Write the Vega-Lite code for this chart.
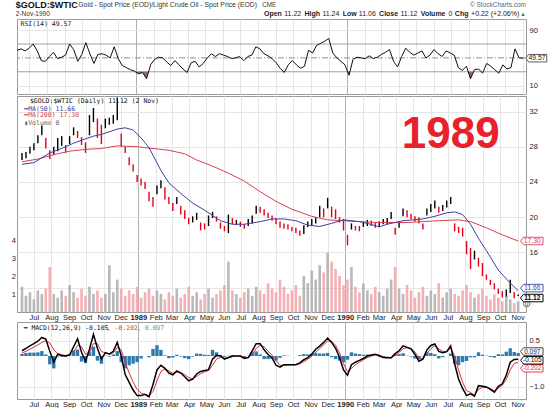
{
"$schema":"https://vega.github.io/schema/vega-lite/v6.json",
"padding":{"left":10,"top":0,"right":2,"bottom":0},
"spacing":0,
"config":{"font":"Liberation Sans","view":{"stroke":"#999999"},"axis":{"labelFont":"Liberation Sans","labelFontSize":7.5,"labelColor":"#222222","ticks":false,"domain":false,"gridColor":"#e6e6e6"}},
"datasets":{
"w":[
{"d":"1988-06-10","lo":26.5,"hi":27.3,"dir":"u","v":1.4,"rsi":61,"m":0.17,"s":0.10,"h":0.07},
{"d":"1988-06-17","lo":26.7,"hi":27.4,"dir":"u","v":0.9,"rsi":63,"m":0.25,"s":0.15,"h":0.10},
{"d":"1988-06-24","lo":27.2,"hi":28.0,"dir":"u","v":1.1,"rsi":60,"m":0.33,"s":0.22,"h":0.11},
{"d":"1988-07-01","lo":27.6,"hi":28.4,"dir":"u","v":0.7,"rsi":64,"m":0.40,"s":0.29,"h":0.11},
{"d":"1988-07-08","lo":28.4,"hi":29.3,"dir":"u","v":1.2,"rsi":70,"m":0.48,"s":0.36,"h":0.12},
{"d":"1988-07-15","lo":29.3,"hi":30.4,"dir":"u","v":1.0,"rsi":60,"m":0.60,"s":0.44,"h":0.16},
{"d":"1988-07-22","lo":27.8,"hi":29.0,"dir":"d","v":1.3,"rsi":46,"m":0.55,"s":0.50,"h":0.05},
{"d":"1988-07-29","lo":26.6,"hi":27.6,"dir":"d","v":2.5,"rsi":45,"m":0.15,"s":0.42,"h":-0.27},
{"d":"1988-08-05","lo":27.1,"hi":28.0,"dir":"u","v":1.0,"rsi":52,"m":-0.20,"s":0.20,"h":-0.40},
{"d":"1988-08-12","lo":27.5,"hi":29.0,"dir":"u","v":0.8,"rsi":58,"m":0.06,"s":0.08,"h":-0.02},
{"d":"1988-08-19","lo":28.1,"hi":29.2,"dir":"u","v":1.2,"rsi":49,"m":0.02,"s":0.04,"h":-0.02},
{"d":"1988-08-26","lo":27.3,"hi":28.2,"dir":"d","v":0.9,"rsi":51,"m":0.00,"s":0.02,"h":-0.02},
{"d":"1988-09-02","lo":28.3,"hi":29.2,"dir":"u","v":1.5,"rsi":54,"m":0.04,"s":0.02,"h":0.02},
{"d":"1988-09-09","lo":29.3,"hi":30.2,"dir":"u","v":1.1,"rsi":70,"m":0.30,"s":0.12,"h":0.18},
{"d":"1988-09-16","lo":29.0,"hi":29.8,"dir":"d","v":0.8,"rsi":62,"m":0.56,"s":0.35,"h":0.21},
{"d":"1988-09-23","lo":28.2,"hi":29.1,"dir":"d","v":1.3,"rsi":45,"m":0.12,"s":0.30,"h":-0.18},
{"d":"1988-09-30","lo":27.3,"hi":28.5,"dir":"d","v":0.9,"rsi":55,"m":-0.17,"s":0.06,"h":-0.23},
{"d":"1988-10-07","lo":29.3,"hi":31.6,"dir":"u","v":1.4,"rsi":72,"m":0.22,"s":0.10,"h":0.12},
{"d":"1988-10-14","lo":30.8,"hi":32.4,"dir":"u","v":1.0,"rsi":56,"m":0.70,"s":0.40,"h":0.30},
{"d":"1988-10-21","lo":29.0,"hi":31.2,"dir":"d","v":1.2,"rsi":42,"m":0.25,"s":0.40,"h":-0.15},
{"d":"1988-10-28","lo":28.3,"hi":30.5,"dir":"d","v":0.8,"rsi":55,"m":-0.10,"s":0.15,"h":-0.25},
{"d":"1988-11-04","lo":30.1,"hi":31.2,"dir":"u","v":1.0,"rsi":56,"m":0.11,"s":0.10,"h":0.01},
{"d":"1988-11-11","lo":30.5,"hi":31.3,"dir":"u","v":2.6,"rsi":54,"m":0.06,"s":0.08,"h":-0.02},
{"d":"1988-11-18","lo":30.6,"hi":31.6,"dir":"u","v":1.1,"rsi":50,"m":0.15,"s":0.10,"h":0.05},
{"d":"1988-11-25","lo":31.0,"hi":33.6,"dir":"u","v":1.8,"rsi":66,"m":0.44,"s":0.28,"h":0.16},
{"d":"1988-12-02","lo":28.0,"hi":29.5,"dir":"d","v":1.3,"rsi":49,"m":0.00,"s":0.20,"h":-0.20},
{"d":"1988-12-09","lo":27.3,"hi":28.0,"dir":"d","v":0.9,"rsi":39,"m":-0.60,"s":-0.20,"h":-0.40},
{"d":"1988-12-16","lo":25.9,"hi":26.8,"dir":"d","v":1.2,"rsi":36,"m":-0.85,"s":-0.55,"h":-0.30},
{"d":"1988-12-23","lo":25.2,"hi":26.0,"dir":"d","v":1.0,"rsi":33,"m":-1.10,"s":-0.85,"h":-0.25},
{"d":"1988-12-30","lo":24.0,"hi":24.8,"dir":"d","v":1.4,"rsi":31,"m":-1.28,"s":-1.08,"h":-0.20},
{"d":"1989-01-06","lo":23.6,"hi":24.4,"dir":"d","v":0.8,"rsi":27,"m":-1.28,"s":-1.20,"h":-0.08},
{"d":"1989-01-13","lo":23.2,"hi":24.0,"dir":"d","v":1.1,"rsi":29,"m":-1.24,"s":-1.24,"h":0.00},
{"d":"1989-01-20","lo":21.8,"hi":22.9,"dir":"d","v":1.3,"rsi":20,"m":-1.32,"s":-1.28,"h":-0.04},
{"d":"1989-01-27","lo":21.2,"hi":22.3,"dir":"d","v":0.9,"rsi":40,"m":-0.92,"s":-1.15,"h":0.23},
{"d":"1989-02-03","lo":22.6,"hi":23.6,"dir":"u","v":1.2,"rsi":48,"m":-0.45,"s":-0.80,"h":0.35},
{"d":"1989-02-10","lo":23.3,"hi":24.2,"dir":"u","v":1.0,"rsi":51,"m":-0.30,"s":-0.50,"h":0.20},
{"d":"1989-02-17","lo":22.0,"hi":23.4,"dir":"d","v":0.7,"rsi":50,"m":-0.40,"s":-0.42,"h":0.02},
{"d":"1989-02-24","lo":21.5,"hi":22.3,"dir":"d","v":1.1,"rsi":44,"m":-0.55,"s":-0.48,"h":-0.07},
{"d":"1989-03-03","lo":20.7,"hi":21.6,"dir":"d","v":0.9,"rsi":39,"m":-0.61,"s":-0.56,"h":-0.05},
{"d":"1989-03-10","lo":21.5,"hi":22.3,"dir":"u","v":1.3,"rsi":46,"m":-0.48,"s":-0.52,"h":0.04},
{"d":"1989-03-17","lo":20.3,"hi":21.3,"dir":"d","v":0.8,"rsi":40,"m":-0.55,"s":-0.53,"h":-0.02},
{"d":"1989-03-24","lo":19.8,"hi":20.8,"dir":"d","v":1.0,"rsi":34,"m":-0.67,"s":-0.60,"h":-0.07},
{"d":"1989-03-31","lo":19.2,"hi":19.9,"dir":"d","v":1.4,"rsi":29,"m":-0.80,"s":-0.70,"h":-0.10},
{"d":"1989-04-07","lo":19.4,"hi":20.1,"dir":"u","v":0.9,"rsi":43,"m":-0.75,"s":-0.73,"h":-0.02},
{"d":"1989-04-14","lo":19.7,"hi":20.5,"dir":"u","v":1.1,"rsi":45,"m":-0.58,"s":-0.66,"h":0.08},
{"d":"1989-04-21","lo":18.5,"hi":19.4,"dir":"d","v":0.7,"rsi":37,"m":-0.50,"s":-0.57,"h":0.07},
{"d":"1989-04-28","lo":18.6,"hi":19.3,"dir":"d","v":1.0,"rsi":42,"m":-0.47,"s":-0.51,"h":0.04},
{"d":"1989-05-05","lo":19.0,"hi":20.2,"dir":"u","v":1.3,"rsi":50,"m":-0.44,"s":-0.47,"h":0.03},
{"d":"1989-05-12","lo":19.9,"hi":20.6,"dir":"u","v":0.8,"rsi":56,"m":-0.10,"s":-0.30,"h":0.20},
{"d":"1989-05-19","lo":19.5,"hi":20.1,"dir":"d","v":1.0,"rsi":52,"m":0.02,"s":-0.10,"h":0.12},
{"d":"1989-05-26","lo":18.7,"hi":19.4,"dir":"d","v":1.2,"rsi":56,"m":0.00,"s":-0.04,"h":0.04},
{"d":"1989-06-02","lo":18.4,"hi":19.0,"dir":"d","v":1.5,"rsi":54,"m":-0.10,"s":-0.07,"h":-0.03},
{"d":"1989-06-09","lo":18.2,"hi":20.3,"dir":"u","v":2.8,"rsi":52,"m":-0.05,"s":-0.06,"h":0.01},
{"d":"1989-06-16","lo":19.2,"hi":19.9,"dir":"d","v":1.2,"rsi":49,"m":0.00,"s":-0.02,"h":0.02},
{"d":"1989-06-23","lo":19.1,"hi":19.7,"dir":"u","v":1.0,"rsi":50,"m":0.00,"s":0.00,"h":0.00},
{"d":"1989-06-30","lo":18.9,"hi":19.5,"dir":"d","v":0.8,"rsi":52,"m":0.00,"s":0.00,"h":0.00},
{"d":"1989-07-07","lo":18.7,"hi":19.2,"dir":"d","v":1.1,"rsi":46,"m":-0.08,"s":-0.04,"h":-0.04},
{"d":"1989-07-14","lo":19.0,"hi":19.8,"dir":"u","v":1.3,"rsi":52,"m":-0.05,"s":-0.05,"h":0.00},
{"d":"1989-07-21","lo":19.3,"hi":20.2,"dir":"u","v":0.9,"rsi":54,"m":0.17,"s":0.05,"h":0.12},
{"d":"1989-07-28","lo":20.4,"hi":21.3,"dir":"u","v":1.4,"rsi":66,"m":0.40,"s":0.25,"h":0.15},
{"d":"1989-08-04","lo":20.5,"hi":21.2,"dir":"d","v":1.2,"rsi":63,"m":0.40,"s":0.35,"h":0.05},
{"d":"1989-08-11","lo":20.2,"hi":20.9,"dir":"d","v":1.0,"rsi":56,"m":0.20,"s":0.30,"h":-0.10},
{"d":"1989-08-18","lo":19.9,"hi":20.5,"dir":"d","v":1.6,"rsi":53,"m":0.05,"s":0.15,"h":-0.10},
{"d":"1989-08-25","lo":19.6,"hi":20.2,"dir":"d","v":1.3,"rsi":49,"m":-0.06,"s":0.03,"h":-0.09},
{"d":"1989-09-01","lo":19.2,"hi":19.9,"dir":"d","v":1.1,"rsi":43,"m":-0.30,"s":-0.15,"h":-0.15},
{"d":"1989-09-08","lo":18.8,"hi":19.5,"dir":"d","v":1.8,"rsi":35,"m":-0.36,"s":-0.30,"h":-0.06},
{"d":"1989-09-15","lo":18.7,"hi":19.3,"dir":"d","v":1.4,"rsi":29,"m":-0.28,"s":-0.30,"h":0.02},
{"d":"1989-09-22","lo":18.6,"hi":19.2,"dir":"d","v":1.0,"rsi":40,"m":-0.28,"s":-0.29,"h":0.01},
{"d":"1989-09-29","lo":18.4,"hi":18.9,"dir":"d","v":1.2,"rsi":46,"m":-0.28,"s":-0.28,"h":0.00},
{"d":"1989-10-06","lo":18.2,"hi":18.8,"dir":"d","v":1.5,"rsi":40,"m":-0.28,"s":-0.28,"h":0.00},
{"d":"1989-10-13","lo":17.9,"hi":18.5,"dir":"d","v":0.9,"rsi":35,"m":-0.22,"s":-0.25,"h":0.03},
{"d":"1989-10-20","lo":18.1,"hi":19.1,"dir":"u","v":2.0,"rsi":38,"m":-0.12,"s":-0.18,"h":0.06},
{"d":"1989-10-27","lo":18.9,"hi":19.5,"dir":"u","v":1.6,"rsi":61,"m":-0.05,"s":-0.10,"h":0.05},
{"d":"1989-11-03","lo":19.1,"hi":19.8,"dir":"u","v":2.3,"rsi":57,"m":0.06,"s":-0.01,"h":0.07},
{"d":"1989-11-10","lo":19.3,"hi":20.0,"dir":"u","v":1.8,"rsi":68,"m":0.22,"s":0.12,"h":0.10},
{"d":"1989-11-17","lo":20.0,"hi":21.3,"dir":"u","v":2.6,"rsi":71,"m":0.32,"s":0.24,"h":0.08},
{"d":"1989-11-24","lo":20.0,"hi":21.0,"dir":"d","v":2.2,"rsi":74,"m":0.44,"s":0.36,"h":0.08},
{"d":"1989-12-01","lo":21.0,"hi":22.2,"dir":"u","v":3.3,"rsi":78,"m":0.58,"s":0.48,"h":0.10},
{"d":"1989-12-08","lo":20.0,"hi":21.2,"dir":"d","v":2.8,"rsi":57,"m":0.44,"s":0.48,"h":-0.04},
{"d":"1989-12-15","lo":19.8,"hi":20.9,"dir":"d","v":2.4,"rsi":50,"m":0.25,"s":0.35,"h":-0.10},
{"d":"1989-12-22","lo":19.4,"hi":20.0,"dir":"d","v":2.0,"rsi":45,"m":-0.05,"s":0.10,"h":-0.15},
{"d":"1989-12-29","lo":18.5,"hi":19.8,"dir":"d","v":1.5,"rsi":40,"m":-0.45,"s":-0.25,"h":-0.20},
{"d":"1990-01-05","lo":16.8,"hi":18.0,"dir":"d","v":1.8,"rsi":25,"m":-0.62,"s":-0.50,"h":-0.12},
{"d":"1990-01-12","lo":18.6,"hi":19.3,"dir":"u","v":2.5,"rsi":48,"m":-0.28,"s":-0.40,"h":0.12},
{"d":"1990-01-19","lo":18.5,"hi":19.0,"dir":"d","v":1.4,"rsi":51,"m":-0.20,"s":-0.28,"h":0.08},
{"d":"1990-01-26","lo":18.4,"hi":19.0,"dir":"d","v":1.1,"rsi":50,"m":-0.14,"s":-0.20,"h":0.06},
{"d":"1990-02-02","lo":18.9,"hi":19.5,"dir":"u","v":1.6,"rsi":49,"m":-0.08,"s":-0.12,"h":0.04},
{"d":"1990-02-09","lo":19.0,"hi":19.7,"dir":"u","v":1.2,"rsi":53,"m":0.00,"s":-0.05,"h":0.05},
{"d":"1990-02-16","lo":19.0,"hi":19.6,"dir":"d","v":1.0,"rsi":49,"m":0.03,"s":0.00,"h":0.03},
{"d":"1990-02-23","lo":18.8,"hi":19.4,"dir":"d","v":1.4,"rsi":51,"m":0.06,"s":0.04,"h":0.02},
{"d":"1990-03-02","lo":18.9,"hi":19.5,"dir":"u","v":1.1,"rsi":55,"m":0.01,"s":0.03,"h":-0.02},
{"d":"1990-03-09","lo":19.2,"hi":19.8,"dir":"u","v":0.9,"rsi":58,"m":-0.05,"s":-0.02,"h":-0.03},
{"d":"1990-03-16","lo":19.2,"hi":19.9,"dir":"u","v":1.3,"rsi":62,"m":-0.06,"s":-0.05,"h":-0.01},
{"d":"1990-03-23","lo":19.8,"hi":20.6,"dir":"u","v":1.8,"rsi":45,"m":-0.06,"s":-0.06,"h":0.00},
{"d":"1990-03-30","lo":18.0,"hi":18.8,"dir":"d","v":2.5,"rsi":37,"m":0.08,"s":0.02,"h":0.06},
{"d":"1990-04-06","lo":18.8,"hi":19.5,"dir":"u","v":1.3,"rsi":52,"m":0.17,"s":0.11,"h":0.06},
{"d":"1990-04-13","lo":20.1,"hi":21.0,"dir":"u","v":1.0,"rsi":64,"m":0.33,"s":0.24,"h":0.09},
{"d":"1990-04-20","lo":20.0,"hi":20.8,"dir":"d","v":1.5,"rsi":58,"m":0.28,"s":0.27,"h":0.01},
{"d":"1990-04-27","lo":19.8,"hi":20.4,"dir":"d","v":1.2,"rsi":54,"m":0.23,"s":0.25,"h":-0.02},
{"d":"1990-05-04","lo":19.5,"hi":20.1,"dir":"d","v":0.8,"rsi":57,"m":0.05,"s":0.13,"h":-0.08},
{"d":"1990-05-11","lo":19.3,"hi":20.0,"dir":"d","v":1.1,"rsi":60,"m":-0.17,"s":-0.06,"h":-0.11},
{"d":"1990-05-18","lo":18.6,"hi":19.3,"dir":"d","v":1.4,"rsi":50,"m":-0.10,"s":-0.09,"h":-0.01},
{"d":"1990-05-25","lo":20.2,"hi":21.0,"dir":"u","v":0.9,"rsi":54,"m":0.20,"s":0.08,"h":0.12},
{"d":"1990-06-01","lo":20.6,"hi":21.5,"dir":"u","v":1.2,"rsi":62,"m":0.34,"s":0.24,"h":0.10},
{"d":"1990-06-08","lo":21.0,"hi":21.9,"dir":"u","v":1.0,"rsi":56,"m":0.39,"s":0.33,"h":0.06},
{"d":"1990-06-15","lo":20.5,"hi":21.2,"dir":"d","v":1.6,"rsi":52,"m":0.15,"s":0.23,"h":-0.08},
{"d":"1990-06-22","lo":20.7,"hi":21.4,"dir":"u","v":0.8,"rsi":60,"m":0.11,"s":0.15,"h":-0.04},
{"d":"1990-06-29","lo":21.1,"hi":21.9,"dir":"u","v":1.1,"rsi":57,"m":0.14,"s":0.14,"h":0.00},
{"d":"1990-07-06","lo":21.5,"hi":22.3,"dir":"u","v":1.3,"rsi":54,"m":0.33,"s":0.25,"h":0.08},
{"d":"1990-07-13","lo":18.4,"hi":19.3,"dir":"d","v":1.0,"rsi":36,"m":-0.25,"s":0.00,"h":-0.25},
{"d":"1990-07-20","lo":18.2,"hi":18.9,"dir":"d","v":0.9,"rsi":32,"m":-0.75,"s":-0.45,"h":-0.30},
{"d":"1990-07-27","lo":17.8,"hi":18.8,"dir":"d","v":1.2,"rsi":38,"m":-1.05,"s":-0.85,"h":-0.20},
{"d":"1990-08-03","lo":15.8,"hi":17.3,"dir":"d","v":1.5,"rsi":20,"m":-1.28,"s":-1.12,"h":-0.16},
{"d":"1990-08-10","lo":14.1,"hi":16.5,"dir":"d","v":1.1,"rsi":33,"m":-1.22,"s":-1.18,"h":-0.04},
{"d":"1990-08-17","lo":15.2,"hi":16.2,"dir":"u","v":0.8,"rsi":34,"m":-1.30,"s":-1.26,"h":-0.04},
{"d":"1990-08-24","lo":14.4,"hi":15.4,"dir":"d","v":1.0,"rsi":28,"m":-0.96,"s":-1.08,"h":0.12},
{"d":"1990-08-31","lo":13.3,"hi":14.8,"dir":"d","v":1.3,"rsi":42,"m":-0.98,"s":-1.02,"h":0.04},
{"d":"1990-09-07","lo":12.9,"hi":13.5,"dir":"d","v":0.9,"rsi":38,"m":-1.00,"s":-1.01,"h":0.01},
{"d":"1990-09-14","lo":12.3,"hi":12.9,"dir":"d","v":0.7,"rsi":33,"m":-1.08,"s":-1.05,"h":-0.03},
{"d":"1990-09-21","lo":11.8,"hi":12.5,"dir":"d","v":1.0,"rsi":28,"m":-1.17,"s":-1.12,"h":-0.05},
{"d":"1990-09-28","lo":11.3,"hi":11.9,"dir":"d","v":0.8,"rsi":40,"m":-0.98,"s":-1.04,"h":0.06},
{"d":"1990-10-05","lo":10.9,"hi":11.6,"dir":"d","v":0.6,"rsi":34,"m":-0.90,"s":-0.95,"h":0.05},
{"d":"1990-10-12","lo":11.0,"hi":11.8,"dir":"u","v":0.9,"rsi":36,"m":-0.62,"s":-0.76,"h":0.14},
{"d":"1990-10-19","lo":11.4,"hi":12.9,"dir":"u","v":0.7,"rsi":63,"m":-0.20,"s":-0.45,"h":0.25},
{"d":"1990-10-26","lo":10.8,"hi":11.5,"dir":"d","v":0.5,"rsi":50,"m":-0.11,"s":-0.24,"h":0.13},
{"d":"1990-11-02","lo":11.06,"hi":11.24,"dir":"u","v":0.6,"rsi":49.57,"m":-0.105,"s":-0.202,"h":0.097}
],
"ma50":[
{"d":"1988-06-10","v":26.0},{"d":"1988-07-01","v":26.2},{"d":"1988-07-29","v":27.3},{"d":"1988-08-19","v":27.8},{"d":"1988-09-09","v":28.4},{"d":"1988-09-30","v":28.9},{"d":"1988-10-14","v":29.2},{"d":"1988-10-28","v":29.4},{"d":"1988-11-25","v":30.0},{"d":"1988-12-09","v":30.15},{"d":"1988-12-23","v":29.9},{"d":"1989-01-06","v":29.0},{"d":"1989-01-20","v":27.9},{"d":"1989-02-10","v":25.3},{"d":"1989-02-24","v":23.9},{"d":"1989-03-17","v":22.7},{"d":"1989-04-07","v":21.6},{"d":"1989-04-28","v":20.8},{"d":"1989-05-26","v":19.6},{"d":"1989-06-16","v":19.2},{"d":"1989-07-07","v":19.2},{"d":"1989-08-04","v":19.5},{"d":"1989-08-25","v":19.8},{"d":"1989-09-15","v":19.8},{"d":"1989-10-06","v":19.6},{"d":"1989-10-27","v":19.1},{"d":"1989-11-17","v":18.95},{"d":"1989-12-08","v":19.3},{"d":"1989-12-29","v":19.7},{"d":"1990-01-26","v":19.5},{"d":"1990-02-09","v":19.3},{"d":"1990-03-02","v":18.9},{"d":"1990-03-16","v":19.2},{"d":"1990-04-13","v":19.6},{"d":"1990-05-18","v":19.8},{"d":"1990-06-08","v":20.1},{"d":"1990-06-29","v":20.5},{"d":"1990-07-13","v":20.6},{"d":"1990-07-27","v":20.3},{"d":"1990-08-10","v":19.2},{"d":"1990-08-24","v":17.6},{"d":"1990-09-07","v":16.2},{"d":"1990-09-28","v":14.0},{"d":"1990-10-12","v":13.0},{"d":"1990-11-02","v":11.66}
],
"ma200":[
{"d":"1988-06-10","v":26.3},{"d":"1988-07-08","v":26.6},{"d":"1988-08-05","v":27.1},{"d":"1988-09-02","v":27.5},{"d":"1988-09-30","v":27.7},{"d":"1988-10-28","v":27.8},{"d":"1988-11-25","v":28.1},{"d":"1988-12-30","v":28.0},{"d":"1989-01-27","v":27.8},{"d":"1989-02-24","v":27.6},{"d":"1989-03-24","v":27.2},{"d":"1989-04-14","v":26.5},{"d":"1989-05-12","v":25.8},{"d":"1989-06-09","v":25.0},{"d":"1989-07-07","v":24.1},{"d":"1989-08-04","v":22.9},{"d":"1989-09-01","v":21.8},{"d":"1989-09-29","v":20.9},{"d":"1989-11-03","v":20.1},{"d":"1989-12-01","v":19.7},{"d":"1989-12-29","v":19.6},{"d":"1990-02-23","v":19.4},{"d":"1990-04-20","v":19.4},{"d":"1990-06-15","v":19.6},{"d":"1990-07-20","v":19.7},{"d":"1990-08-10","v":19.5},{"d":"1990-09-07","v":18.8},{"d":"1990-10-05","v":18.0},{"d":"1990-11-02","v":17.3}
],
"rsiLow":[
{"d":"1988-12-31","r":30,"g":"a"},{"d":"1989-01-06","r":27,"g":"a"},{"d":"1989-01-13","r":29,"g":"a"},{"d":"1989-01-20","r":20,"g":"a"},{"d":"1989-01-23","r":30,"g":"a"},
{"d":"1990-01-02","r":30,"g":"b"},{"d":"1990-01-05","r":25,"g":"b"},{"d":"1990-01-07","r":30,"g":"b"},
{"d":"1990-07-30","r":30,"g":"c"},{"d":"1990-08-03","r":20,"g":"c"},{"d":"1990-08-08","r":30,"g":"c"}
],
"rsiTag":[{"v":49.57,"t":"49.57"}],
"mainTags":[{"v":17.30,"t":"17.30","s":"ma200"},{"v":11.66,"t":"11.66","s":"ma50"},{"v":11.12,"t":"11.12","s":"close"}],
"macdTags":[{"v":-0.202,"t":"-0.202","s":"signal"},{"v":-0.105,"t":"-0.105","s":"macd"},{"v":0.097,"t":"0.097","s":"hist"}]
},
"vconcat":[
{"width":509,"height":75,
"layer":[
{"data":{"values":[{"lvl":30},{"lvl":70}]},"mark":{"type":"rule","color":"#a0a0a0","strokeWidth":1},"encoding":{"y":{"field":"lvl","type":"quantitative","scale":{"domain":[-2,106],"nice":false,"zero":false},"axis":{"orient":"right","values":[10,30,50,70,90],"labelExpr":"datum.value==50?'':datum.label","grid":true,"labelPadding":3,"title":null}}}},
{"data":{"values":[{"lvl":50}]},"mark":{"type":"rule","color":"#909090","strokeWidth":1,"strokeDash":[6,2,1,2]},"encoding":{"y":{"field":"lvl","type":"quantitative"}}},
{"data":{"name":"rsiLow"},"mark":{"type":"area","color":"#8a5656","opacity":0.9},"encoding":{"x":{"field":"d","type":"temporal","scale":{"type":"utc","domain":[{"year":1988,"month":6,"date":10,"utc":true},{"year":1990,"month":11,"date":7,"utc":true}]},"axis":{"labels":false,"grid":true,"tickCount":{"interval":"month","step":1},"gridColor":{"condition":{"test":"utcmonth(datum.value)==0","value":"#b0b0b0"},"value":"#e6e6e6"},"title":null}},"y":{"field":"r","type":"quantitative"},"y2":{"datum":30},"detail":{"field":"g"}}},
{"data":{"name":"w"},"mark":{"type":"line","color":"#111111","strokeWidth":1},"encoding":{"x":{"field":"d","type":"temporal"},"y":{"field":"rsi","type":"quantitative"}}},
{"data":{"values":[{}]},"mark":{"type":"text","align":"left","baseline":"middle","fontSize":9,"fontWeight":"bold","color":"#111111"},"encoding":{"x":{"datum":{"year":1988,"month":6,"date":8,"utc":true},"type":"temporal"},"y":{"datum":126.2},"text":{"value":"$GOLD:$WTIC"}}},
{"data":{"values":[{}]},"mark":{"type":"text","align":"left","baseline":"middle","fontSize":6.8,"color":"#333333"},"encoding":{"x":{"datum":{"year":1988,"month":9,"date":24,"utc":true},"type":"temporal"},"y":{"datum":125.5},"text":{"value":"Gold - Spot Price (EOD)/Light Crude Oil - Spot Price (EOD)"}}},
{"data":{"values":[{}]},"mark":{"type":"text","align":"left","baseline":"middle","fontSize":6.3,"color":"#333333"},"encoding":{"x":{"datum":{"year":1989,"month":8,"date":8,"utc":true},"type":"temporal"},"y":{"datum":125.5},"text":{"value":"CME"}}},
{"data":{"values":[{}]},"mark":{"type":"text","align":"right","baseline":"middle","fontSize":6.5,"color":"#666666"},"encoding":{"x":{"datum":{"year":1990,"month":11,"date":7,"utc":true},"type":"temporal"},"y":{"datum":125.5},"text":{"value":"© StockCharts.com"}}},
{"data":{"values":[{}]},"mark":{"type":"text","align":"left","baseline":"middle","fontSize":6.5,"color":"#333333"},"encoding":{"x":{"datum":{"year":1988,"month":6,"date":8,"utc":true},"type":"temporal"},"y":{"datum":112.5},"text":{"value":"2-Nov-1990"}}},
{"data":{"values":[{}]},"mark":{"type":"text","align":"left","baseline":"middle","fontSize":7,"fontWeight":"bold","color":"#222222"},"encoding":{"x":{"datum":{"year":1989,"month":8,"date":11,"utc":true},"type":"temporal"},"y":{"datum":112.5},"text":{"value":"Open"}}},
{"data":{"values":[{}]},"mark":{"type":"text","align":"left","baseline":"middle","fontSize":7,"color":"#222222"},"encoding":{"x":{"datum":{"year":1989,"month":9,"date":15,"utc":true},"type":"temporal"},"y":{"datum":112.5},"text":{"value":"11.22"}}},
{"data":{"values":[{}]},"mark":{"type":"text","align":"left","baseline":"middle","fontSize":7,"fontWeight":"bold","color":"#222222"},"encoding":{"x":{"datum":{"year":1989,"month":10,"date":20,"utc":true},"type":"temporal"},"y":{"datum":112.5},"text":{"value":"High"}}},
{"data":{"values":[{}]},"mark":{"type":"text","align":"left","baseline":"middle","fontSize":7,"color":"#222222"},"encoding":{"x":{"datum":{"year":1989,"month":11,"date":20,"utc":true},"type":"temporal"},"y":{"datum":112.5},"text":{"value":"11.24"}}},
{"data":{"values":[{}]},"mark":{"type":"text","align":"left","baseline":"middle","fontSize":7,"fontWeight":"bold","color":"#222222"},"encoding":{"x":{"datum":{"year":1989,"month":12,"date":25,"utc":true},"type":"temporal"},"y":{"datum":112.5},"text":{"value":"Low"}}},
{"data":{"values":[{}]},"mark":{"type":"text","align":"left","baseline":"middle","fontSize":7,"color":"#222222"},"encoding":{"x":{"datum":{"year":1990,"month":1,"date":22,"utc":true},"type":"temporal"},"y":{"datum":112.5},"text":{"value":"11.06"}}},
{"data":{"values":[{}]},"mark":{"type":"text","align":"left","baseline":"middle","fontSize":7,"fontWeight":"bold","color":"#222222"},"encoding":{"x":{"datum":{"year":1990,"month":2,"date":26,"utc":true},"type":"temporal"},"y":{"datum":112.5},"text":{"value":"Close"}}},
{"data":{"values":[{}]},"mark":{"type":"text","align":"left","baseline":"middle","fontSize":7,"color":"#222222"},"encoding":{"x":{"datum":{"year":1990,"month":4,"date":4,"utc":true},"type":"temporal"},"y":{"datum":112.5},"text":{"value":"11.12"}}},
{"data":{"values":[{}]},"mark":{"type":"text","align":"left","baseline":"middle","fontSize":7,"fontWeight":"bold","color":"#222222"},"encoding":{"x":{"datum":{"year":1990,"month":5,"date":9,"utc":true},"type":"temporal"},"y":{"datum":112.5},"text":{"value":"Volume"}}},
{"data":{"values":[{}]},"mark":{"type":"text","align":"left","baseline":"middle","fontSize":7,"color":"#222222"},"encoding":{"x":{"datum":{"year":1990,"month":6,"date":26,"utc":true},"type":"temporal"},"y":{"datum":112.5},"text":{"value":"0"}}},
{"data":{"values":[{}]},"mark":{"type":"text","align":"left","baseline":"middle","fontSize":7,"fontWeight":"bold","color":"#222222"},"encoding":{"x":{"datum":{"year":1990,"month":7,"date":7,"utc":true},"type":"temporal"},"y":{"datum":112.5},"text":{"value":"Chg"}}},
{"data":{"values":[{}]},"mark":{"type":"text","align":"left","baseline":"middle","fontSize":7,"color":"#222222"},"encoding":{"x":{"datum":{"year":1990,"month":8,"date":4,"utc":true},"type":"temporal"},"y":{"datum":112.5},"text":{"value":"+0.22 (+2.06%)"}}},
{"data":{"values":[{}]},"mark":{"type":"text","align":"right","baseline":"middle","fontSize":6,"color":"#2a9a3a"},"encoding":{"x":{"datum":{"year":1990,"month":11,"date":7,"utc":true},"type":"temporal"},"y":{"datum":112.5},"text":{"value":"▲"}}},
{"data":{"values":[{}]},"mark":{"type":"text","align":"left","baseline":"middle","fontSize":6.5,"font":"DejaVu Sans Mono","color":"#222222"},"encoding":{"x":{"datum":{"year":1988,"month":6,"date":16,"utc":true},"type":"temporal"},"y":{"datum":98.8},"text":{"value":"RSI(14) 49.57"}}},
{"data":{"name":"rsiTag"},"mark":{"type":"point","shape":"M-1.5,0L-1.1,-0.5H1.3V0.5H-1.1Z","size":225,"filled":true,"fill":"white","stroke":"#333333","strokeWidth":0.8,"opacity":1},"encoding":{"x":{"datum":{"year":1990,"month":11,"date":26,"utc":true},"type":"temporal"},"y":{"field":"v","type":"quantitative"}}},
{"data":{"name":"rsiTag"},"mark":{"type":"text","align":"center","baseline":"middle","fontSize":6.8,"color":"#222222"},"encoding":{"x":{"datum":{"year":1990,"month":11,"date":26,"utc":true},"type":"temporal"},"y":{"field":"v","type":"quantitative"},"text":{"field":"t"}}}
]},
{"width":509,"height":216,
"layer":[
{"data":{"name":"w"},"mark":{"type":"bar","size":2.6,"opacity":0.8},"encoding":{"x":{"field":"d","type":"temporal","scale":{"type":"utc","domain":[{"year":1988,"month":6,"date":10,"utc":true},{"year":1990,"month":11,"date":7,"utc":true}]},"axis":{"labels":true,"labelExpr":"utcmonth(datum.value)==0 ? utcFormat(datum.value,'%Y') : utcFormat(datum.value,'%b')","labelFontWeight":{"condition":{"test":"utcmonth(datum.value)==0","value":"bold"},"value":"normal"},"labelOverlap":false,"labelFlush":false,"labelPadding":1,"labelFontSize":7.5,"tickCount":{"interval":"month","step":1},"grid":true,"gridColor":{"condition":{"test":"utcmonth(datum.value)==0","value":"#b0b0b0"},"value":"#e6e6e6"},"title":null}},"y":{"field":"v","type":"quantitative","scale":{"domain":[0,12.0],"nice":false},"axis":{"orient":"left","values":[1,2,3,4],"grid":false,"labelPadding":1.5,"title":null}},"color":{"condition":{"test":"datum.dir=='d'","value":"#f09ea4"},"value":"#a8a8a8"}}},
{"layer":[
{"data":{"name":"w"},"mark":{"type":"rule","strokeWidth":1.4},"encoding":{"x":{"field":"d","type":"temporal"},"y":{"field":"lo","type":"quantitative","scale":{"domain":[9.24,33.76],"nice":false,"zero":false},"axis":{"orient":"right","values":[12,14,16,18,20,22,24,26,28,30,32],"labelExpr":"datum.value==12?'':datum.label","grid":true,"labelPadding":3,"title":null}},"y2":{"field":"hi"},"color":{"condition":{"test":"datum.dir=='d'","value":"#e3001b"},"value":"#000000"}}},
{"data":{"name":"ma200"},"mark":{"type":"line","color":"#d8404f","strokeWidth":1},"encoding":{"x":{"field":"d","type":"temporal"},"y":{"field":"v","type":"quantitative"}}},
{"data":{"name":"ma50"},"mark":{"type":"line","color":"#3f3fa0","strokeWidth":1},"encoding":{"x":{"field":"d","type":"temporal"},"y":{"field":"v","type":"quantitative"}}},
{"data":{"values":[{}]},"mark":{"type":"text","align":"center","baseline":"alphabetic","fontSize":44,"fontWeight":"bold","color":"#e8212b"},"encoding":{"x":{"datum":{"year":1990,"month":7,"date":6,"utc":true},"type":"temporal"},"y":{"datum":27.91},"text":{"value":"1989"}}},
{"data":{"values":[{}]},"mark":{"type":"text","align":"left","baseline":"middle","fontSize":6.5,"font":"DejaVu Sans Mono","color":"#111111"},"encoding":{"x":{"datum":{"year":1988,"month":6,"date":24,"utc":true},"type":"temporal"},"y":{"datum":33.14},"text":{"value":"$GOLD:$WTIC (Daily) 11.12 (2 Nov)"}}},
{"data":{"values":[{}]},"mark":{"type":"text","align":"left","baseline":"middle","fontSize":6.5,"font":"DejaVu Sans Mono","color":"#3f3fa0"},"encoding":{"x":{"datum":{"year":1988,"month":6,"date":14,"utc":true},"type":"temporal"},"y":{"datum":32.34},"text":{"value":"━MA(50) 11.66"}}},
{"data":{"values":[{}]},"mark":{"type":"text","align":"left","baseline":"middle","fontSize":6.5,"font":"DejaVu Sans Mono","color":"#d8404f"},"encoding":{"x":{"datum":{"year":1988,"month":6,"date":14,"utc":true},"type":"temporal"},"y":{"datum":31.55},"text":{"value":"━MA(200) 17.30"}}},
{"data":{"values":[{}]},"mark":{"type":"text","align":"left","baseline":"middle","fontSize":6.5,"font":"DejaVu Sans Mono","color":"#666666"},"encoding":{"x":{"datum":{"year":1988,"month":6,"date":14,"utc":true},"type":"temporal"},"y":{"datum":30.75},"text":{"value":"▮Volume 0"}}},
{"data":{"values":[{}]},"mark":{"type":"point","shape":"circle","size":45,"filled":true,"fill":"white","stroke":"#555555","strokeWidth":0.8,"opacity":1},"encoding":{"x":{"datum":{"year":1990,"month":11,"date":17,"utc":true},"type":"temporal"},"y":{"datum":10.2}}},
{"data":{"values":[{}]},"mark":{"type":"text","align":"center","baseline":"middle","fontSize":6.5,"color":"#333333"},"encoding":{"x":{"datum":{"year":1990,"month":11,"date":17,"utc":true},"type":"temporal"},"y":{"datum":10.2},"text":{"value":"0"}}},
{"data":{"name":"mainTags"},"transform":[{"filter":"datum.s=='ma200'"}],"mark":{"type":"point","shape":"M-1.5,0L-1.1,-0.5H1.5V0.5H-1.1Z","size":225,"filled":true,"fill":"white","stroke":"#d8404f","strokeWidth":0.9,"opacity":1},"encoding":{"x":{"datum":{"year":1990,"month":11,"date":26,"utc":true},"type":"temporal"},"y":{"field":"v","type":"quantitative"}}},
{"data":{"name":"mainTags"},"transform":[{"filter":"datum.s=='ma200'"}],"mark":{"type":"text","align":"center","baseline":"middle","fontSize":6.8,"color":"#d8404f"},"encoding":{"x":{"datum":{"year":1990,"month":11,"date":27,"utc":true},"type":"temporal"},"y":{"field":"v","type":"quantitative"},"text":{"field":"t"}}},
{"data":{"name":"mainTags"},"transform":[{"filter":"datum.s=='ma50'"}],"mark":{"type":"point","shape":"M-1.5,0L-1.1,-0.5H1.5V0.5H-1.1Z","size":225,"filled":true,"fill":"white","stroke":"#3f3fa0","strokeWidth":0.9,"opacity":1},"encoding":{"x":{"datum":{"year":1990,"month":11,"date":26,"utc":true},"type":"temporal"},"y":{"field":"v","type":"quantitative"},"yOffset":{"value":-2.6}}},
{"data":{"name":"mainTags"},"transform":[{"filter":"datum.s=='ma50'"}],"mark":{"type":"text","align":"center","baseline":"middle","fontSize":6.6,"color":"#3f3fa0"},"encoding":{"x":{"datum":{"year":1990,"month":11,"date":27,"utc":true},"type":"temporal"},"y":{"field":"v","type":"quantitative"},"yOffset":{"value":-2.6},"text":{"field":"t"}}},
{"data":{"name":"mainTags"},"transform":[{"filter":"datum.s=='close'"}],"mark":{"type":"point","shape":"M-1.5,0L-1.1,-0.5H1.5V0.5H-1.1Z","size":225,"filled":true,"fill":"white","stroke":"#000000","strokeWidth":1,"opacity":1},"encoding":{"x":{"datum":{"year":1990,"month":11,"date":26,"utc":true},"type":"temporal"},"y":{"field":"v","type":"quantitative"},"yOffset":{"value":2.6}}},
{"data":{"name":"mainTags"},"transform":[{"filter":"datum.s=='close'"}],"mark":{"type":"text","align":"center","baseline":"middle","fontSize":6.6,"fontWeight":"bold","color":"#000000"},"encoding":{"x":{"datum":{"year":1990,"month":11,"date":27,"utc":true},"type":"temporal"},"y":{"field":"v","type":"quantitative"},"yOffset":{"value":2.6},"text":{"field":"t"}}}
]}
],
"resolve":{"scale":{"y":"independent"}}},
{"width":509,"height":77,
"layer":[
{"data":{"name":"w"},"mark":{"type":"bar","size":3.4,"color":"#2e7cae"},"encoding":{"x":{"field":"d","type":"temporal","scale":{"type":"utc","domain":[{"year":1988,"month":6,"date":10,"utc":true},{"year":1990,"month":11,"date":7,"utc":true}]},"axis":{"labels":true,"labelExpr":"utcmonth(datum.value)==0 ? utcFormat(datum.value,'%Y') : utcFormat(datum.value,'%b')","labelFontWeight":{"condition":{"test":"utcmonth(datum.value)==0","value":"bold"},"value":"normal"},"labelOverlap":false,"labelFlush":false,"labelPadding":1,"labelFontSize":7.5,"tickCount":{"interval":"month","step":1},"grid":true,"gridColor":{"condition":{"test":"utcmonth(datum.value)==0","value":"#b0b0b0"},"value":"#e6e6e6"},"title":null}},"y":{"field":"h","type":"quantitative","scale":{"domain":[-1.39,1.10],"nice":false,"zero":false},"axis":{"orient":"right","values":[0.5,0,-0.5,-1],"labelExpr":"datum.value==0?'':format(datum.value,'.1f')","grid":true,"labelPadding":3,"title":null}}}},
{"data":{"name":"w"},"mark":{"type":"line","color":"#e0303a","strokeWidth":1},"encoding":{"x":{"field":"d","type":"temporal"},"y":{"field":"s","type":"quantitative"}}},
{"data":{"name":"w"},"mark":{"type":"line","color":"#000000","strokeWidth":1.5},"encoding":{"x":{"field":"d","type":"temporal"},"y":{"field":"m","type":"quantitative"}}},
{"data":{"values":[{}]},"mark":{"type":"text","align":"left","baseline":"middle","fontSize":6.4,"font":"DejaVu Sans Mono","color":"#111111"},"encoding":{"x":{"datum":{"year":1988,"month":6,"date":13,"utc":true},"type":"temporal"},"y":{"datum":0.92},"text":{"value":"━ MACD(12,26,9) -0.105"}}},
{"data":{"values":[{}]},"mark":{"type":"text","align":"left","baseline":"middle","fontSize":6.4,"font":"DejaVu Sans Mono","color":"#e0303a"},"encoding":{"x":{"datum":{"year":1988,"month":11,"date":7,"utc":true},"type":"temporal"},"y":{"datum":0.92},"text":{"value":", -0.202"}}},
{"data":{"values":[{}]},"mark":{"type":"text","align":"left","baseline":"middle","fontSize":6.4,"font":"DejaVu Sans Mono","color":"#3a9ad0"},"encoding":{"x":{"datum":{"year":1988,"month":12,"date":30,"utc":true},"type":"temporal"},"y":{"datum":0.92},"text":{"value":", 0.097"}}},
{"data":{"name":"macdTags"},"transform":[{"filter":"datum.s=='signal'"}],"mark":{"type":"point","shape":"M-1.5,0L-1.1,-0.5H1.5V0.5H-1.1Z","size":225,"filled":true,"fill":"white","stroke":"#e0303a","strokeWidth":0.9,"opacity":1},"encoding":{"x":{"datum":{"year":1990,"month":11,"date":26,"utc":true},"type":"temporal"},"y":{"field":"v","type":"quantitative"},"yOffset":{"value":6}}},
{"data":{"name":"macdTags"},"transform":[{"filter":"datum.s=='signal'"}],"mark":{"type":"text","align":"center","baseline":"middle","fontSize":6.5,"color":"#e0303a"},"encoding":{"x":{"datum":{"year":1990,"month":11,"date":27,"utc":true},"type":"temporal"},"y":{"field":"v","type":"quantitative"},"yOffset":{"value":6},"text":{"field":"t"}}},
{"data":{"name":"macdTags"},"transform":[{"filter":"datum.s=='macd'"}],"mark":{"type":"point","shape":"M-1.5,0L-1.1,-0.5H1.5V0.5H-1.1Z","size":225,"filled":true,"fill":"white","stroke":"#000000","strokeWidth":0.9,"opacity":1},"encoding":{"x":{"datum":{"year":1990,"month":11,"date":26,"utc":true},"type":"temporal"},"y":{"field":"v","type":"quantitative"},"yOffset":{"value":1}}},
{"data":{"name":"macdTags"},"transform":[{"filter":"datum.s=='macd'"}],"mark":{"type":"text","align":"center","baseline":"middle","fontSize":6.5,"color":"#000000"},"encoding":{"x":{"datum":{"year":1990,"month":11,"date":27,"utc":true},"type":"temporal"},"y":{"field":"v","type":"quantitative"},"yOffset":{"value":1},"text":{"field":"t"}}},
{"data":{"name":"macdTags"},"transform":[{"filter":"datum.s=='hist'"}],"mark":{"type":"point","shape":"M-1.5,0L-1.1,-0.5H1.5V0.5H-1.1Z","size":225,"filled":true,"fill":"white","stroke":"#333333","strokeWidth":0.9,"opacity":1},"encoding":{"x":{"datum":{"year":1990,"month":11,"date":26,"utc":true},"type":"temporal"},"y":{"field":"v","type":"quantitative"},"yOffset":{"value":-1.5}}},
{"data":{"name":"macdTags"},"transform":[{"filter":"datum.s=='hist'"}],"mark":{"type":"text","align":"center","baseline":"middle","fontSize":6.5,"color":"#222222"},"encoding":{"x":{"datum":{"year":1990,"month":11,"date":27,"utc":true},"type":"temporal"},"y":{"field":"v","type":"quantitative"},"yOffset":{"value":-1.5},"text":{"field":"t"}}}
]}
]
}
